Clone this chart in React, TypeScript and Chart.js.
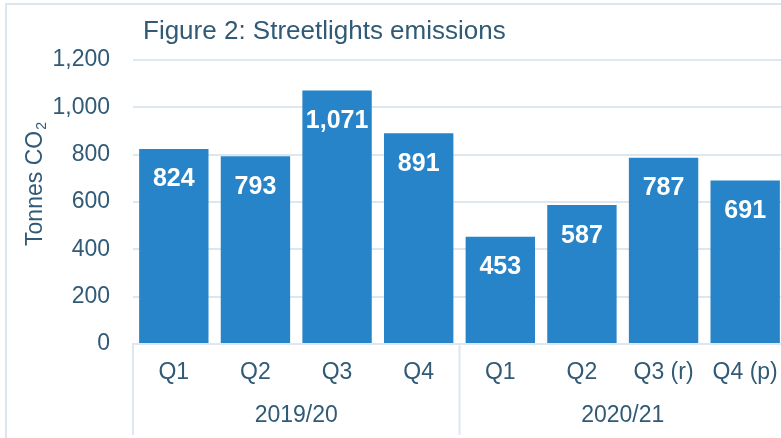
import React, { useEffect, useRef } from 'react';
import { Chart, registerables } from 'chart.js';

Chart.register(...registerables);

const categories = ['Q1', 'Q2', 'Q3', 'Q4', 'Q1', 'Q2', 'Q3 (r)', 'Q4 (p)'];
const emissions = [824, 793, 1071, 891, 453, 587, 787, 691];
const groupLabels = ['2019/20', '2020/21'];
const groupSizes = [4, 4];
const yMin = 0;
const yMax = 1200;
const yStep = 200;
const chartTitle = 'Figure 2: Streetlights emissions';
const yTitleMain = 'Tonnes CO';
const yTitleSub = '2';

const FONT = "'Liberation Sans', Arial, Helvetica, sans-serif";
const TEXT = '#305A76';
const BAR = '#2884C8';
const GRID = '#DDE7F0';

const decorPlugin = {
  id: 'decor',
  beforeDraw(chart: any) {
    const ctx = chart.ctx;
    ctx.save();
    ctx.strokeStyle = '#DCE6EF';
    ctx.lineWidth = 2;
    ctx.strokeRect(6, 4, chart.width + 20, chart.height + 20);
    ctx.restore();
  },
  afterDatasetsDraw(chart: any) {
    const ctx = chart.ctx;
    const meta = chart.getDatasetMeta(0);
    ctx.save();
    ctx.fillStyle = '#FFFFFF';
    ctx.font = `bold 25px ${FONT}`;
    ctx.textAlign = 'center';
    ctx.textBaseline = 'alphabetic';
    meta.data.forEach((el: any, i: number) => {
      const v = emissions[i];
      ctx.fillText(v.toLocaleString('en-US'), el.x, el.y + 37.5);
    });
    ctx.restore();
  },
  afterDraw(chart: any) {
    const ctx = chart.ctx;
    const x = chart.scales.x;
    const area = chart.chartArea;
    ctx.save();
    // title
    ctx.fillStyle = TEXT;
    ctx.font = `26px ${FONT}`;
    ctx.textAlign = 'left';
    ctx.textBaseline = 'alphabetic';
    ctx.fillText(chartTitle, 143, 39);

    // y title with subscript
    ctx.save();
    ctx.translate(42, 184);
    ctx.rotate(-Math.PI / 2);
    ctx.font = `23px ${FONT}`;
    const mainW = ctx.measureText(yTitleMain).width;
    ctx.font = `14px ${FONT}`;
    const subW = ctx.measureText(yTitleSub).width;
    const total = mainW + subW + 1;
    ctx.font = `23px ${FONT}`;
    ctx.fillText(yTitleMain, -total / 2, 0);
    ctx.font = `14px ${FONT}`;
    ctx.fillText(yTitleSub, -total / 2 + mainW + 1, 4);
    ctx.restore();

    // separators and group labels
    ctx.strokeStyle = GRID;
    ctx.lineWidth = 2;
    let start = 0;
    groupSizes.forEach((size, g) => {
      const left = x.getPixelForValue(start - 0.5);
      const right = x.getPixelForValue(start + size - 0.5);
      ctx.beginPath();
      ctx.moveTo(left, area.bottom);
      ctx.lineTo(left, 435);
      ctx.stroke();
      if (g === groupSizes.length - 1) {
        ctx.beginPath();
        ctx.moveTo(right, area.bottom);
        ctx.lineTo(right, 435);
        ctx.stroke();
      }
      ctx.fillStyle = TEXT;
      ctx.font = `23px ${FONT}`;
      ctx.textAlign = 'center';
      ctx.fillText(groupLabels[g], (left + right) / 2, 422);
      start += size;
    });
    ctx.restore();
  },
};

export default function App() {
  const canvasRef = useRef<HTMLCanvasElement | null>(null);

  useEffect(() => {
    if (!canvasRef.current) return;
    const chart = new Chart(canvasRef.current, {
      type: 'bar',
      data: {
        labels: categories,
        datasets: [
          {
            data: emissions,
            backgroundColor: BAR,
            borderWidth: 0,
            categoryPercentage: 1,
            barPercentage: 0.85,
          },
        ],
      },
      options: {
        animation: false,
        responsive: false,
        maintainAspectRatio: false,
        devicePixelRatio: 1,
        layout: { padding: { left: 0, right: 14, top: 60, bottom: 0 } },
        plugins: {
          legend: { display: false },
          title: { display: false },
          tooltip: { enabled: false },
        },
        scales: {
          x: {
            afterFit: (s: any) => {
              s.height = 94;
            },
            grid: { display: false, drawTicks: false },
            border: { display: true, color: GRID, width: 2 },
            ticks: {
              color: TEXT,
              font: { family: FONT, size: 23 },
              padding: 15,
              maxRotation: 0,
              autoSkip: false,
            },
          },
          y: {
            min: yMin,
            max: yMax,
            afterFit: (s: any) => {
              s.width = 133;
            },
            grid: { color: GRID, lineWidth: 2, drawTicks: false },
            border: { display: false },
            ticks: {
              stepSize: yStep,
              color: TEXT,
              font: { family: FONT, size: 23 },
              padding: 23,
              callback: (v: any) => Number(v).toLocaleString('en-US'),
            },
          },
        },
      },
      plugins: [decorPlugin],
    });
    return () => chart.destroy();
  }, []);

  return (
    <div
      style={{
        position: 'fixed',
        left: 0,
        top: 0,
        width: 781,
        height: 438,
        overflow: 'hidden',
        background: '#FFFFFF',
      }}
    >
      <canvas ref={canvasRef} width={800} height={438} style={{ width: 800, height: 438, display: 'block' }} />
    </div>
  );
}
